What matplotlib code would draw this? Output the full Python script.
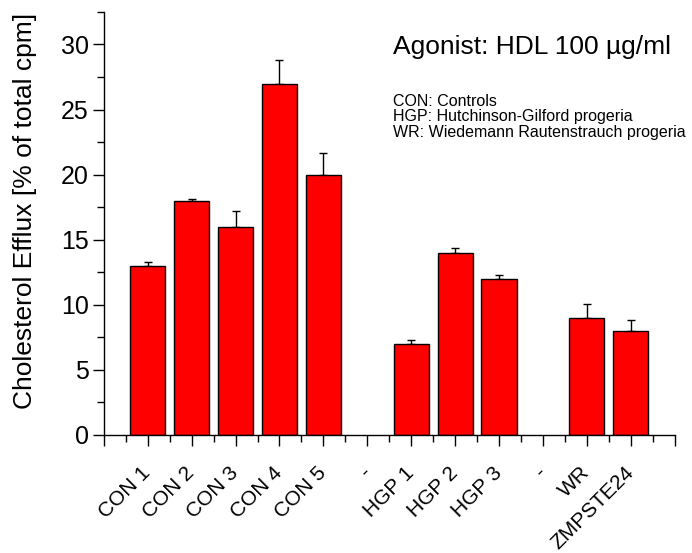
import matplotlib
matplotlib.use("Agg")
import matplotlib.pyplot as plt
from matplotlib.ticker import MultipleLocator

plt.rcParams['font.family'] = ['Liberation Sans', 'DejaVu Sans']

categories = ["CON 1", "CON 2", "CON 3", "CON 4", "CON 5", "-",
              "HGP 1", "HGP 2", "HGP 3", "-", "WR", "ZMPSTE24"]
values = [13.0, 18.0, 16.0, 27.0, 20.0, 0.0, 7.0, 14.0, 12.0, 0.0, 9.0, 8.0]
errors = [0.27, 0.1, 1.2, 1.8, 1.7, 0.0, 0.3, 0.4, 0.28, 0.0, 1.1, 0.8]

fig = plt.figure(figsize=(6.92, 5.53), dpi=100)
ax = fig.add_axes([0.150, 0.2134, 0.825, 0.765])

pos = list(range(1, len(categories) + 1))
bar_vals = [v if v > 0 else float('nan') for v in values]
ax.bar(pos, bar_vals, width=0.8, color='#ff0000', edgecolor='black', linewidth=1.0, zorder=2)
err_pos = [p for p, v in zip(pos, values) if v > 0]
err_v = [v for v in values if v > 0]
err_e = [e for v, e in zip(values, errors) if v > 0]
ax.errorbar(err_pos, err_v, yerr=[[0] * len(err_e), err_e], fmt='none',
            ecolor='black', elinewidth=1.0, capsize=3, capthick=1.0, zorder=1)

ax.set_xlim(0, 13)
ax.set_ylim(0, 32.5)
ax.set_xticks([0] + pos + [13])
ax.set_xticklabels([""] + categories + [""], rotation=45, ha='right', va='center',
                   rotation_mode='anchor', fontsize=15)
ax.set_xticks([p + 0.5 for p in range(0, 13)], minor=True)
ax.yaxis.set_major_locator(MultipleLocator(5))
ax.yaxis.set_minor_locator(MultipleLocator(2.5))
ax.tick_params(axis='both', which='major', direction='out', length=8, width=1.0)
ax.tick_params(axis='both', which='minor', direction='out', length=5, width=1.0)
ax.tick_params(axis='x', which='major', pad=17)
ax.tick_params(axis='y', which='major', labelsize=18, pad=3)
ax.spines['top'].set_visible(False)
ax.spines['right'].set_visible(False)
ax.spines['left'].set_linewidth(1.0)
ax.spines['bottom'].set_linewidth(1.0)
ax.set_ylabel("Cholesterol Efflux [% of total cpm]", fontsize=19)
ax.yaxis.set_label_coords(-0.117, 0.53)

fig.text(393 / 692, 1 - 47 / 553, "Agonist: HDL 100 µg/ml", fontsize=19, va='center', ha='left')
fig.text(393 / 692, 1 - 101 / 553, "CON: Controls", fontsize=11.5, va='center', ha='left')
fig.text(393 / 692, 1 - 117 / 553, "HGP: Hutchinson-Gilford progeria", fontsize=11.5, va='center', ha='left')
fig.text(393 / 692, 1 - 133 / 553, "WR: Wiedemann Rautenstrauch progeria", fontsize=11.5, va='center', ha='left')

fig.savefig("out.png", dpi=100)
